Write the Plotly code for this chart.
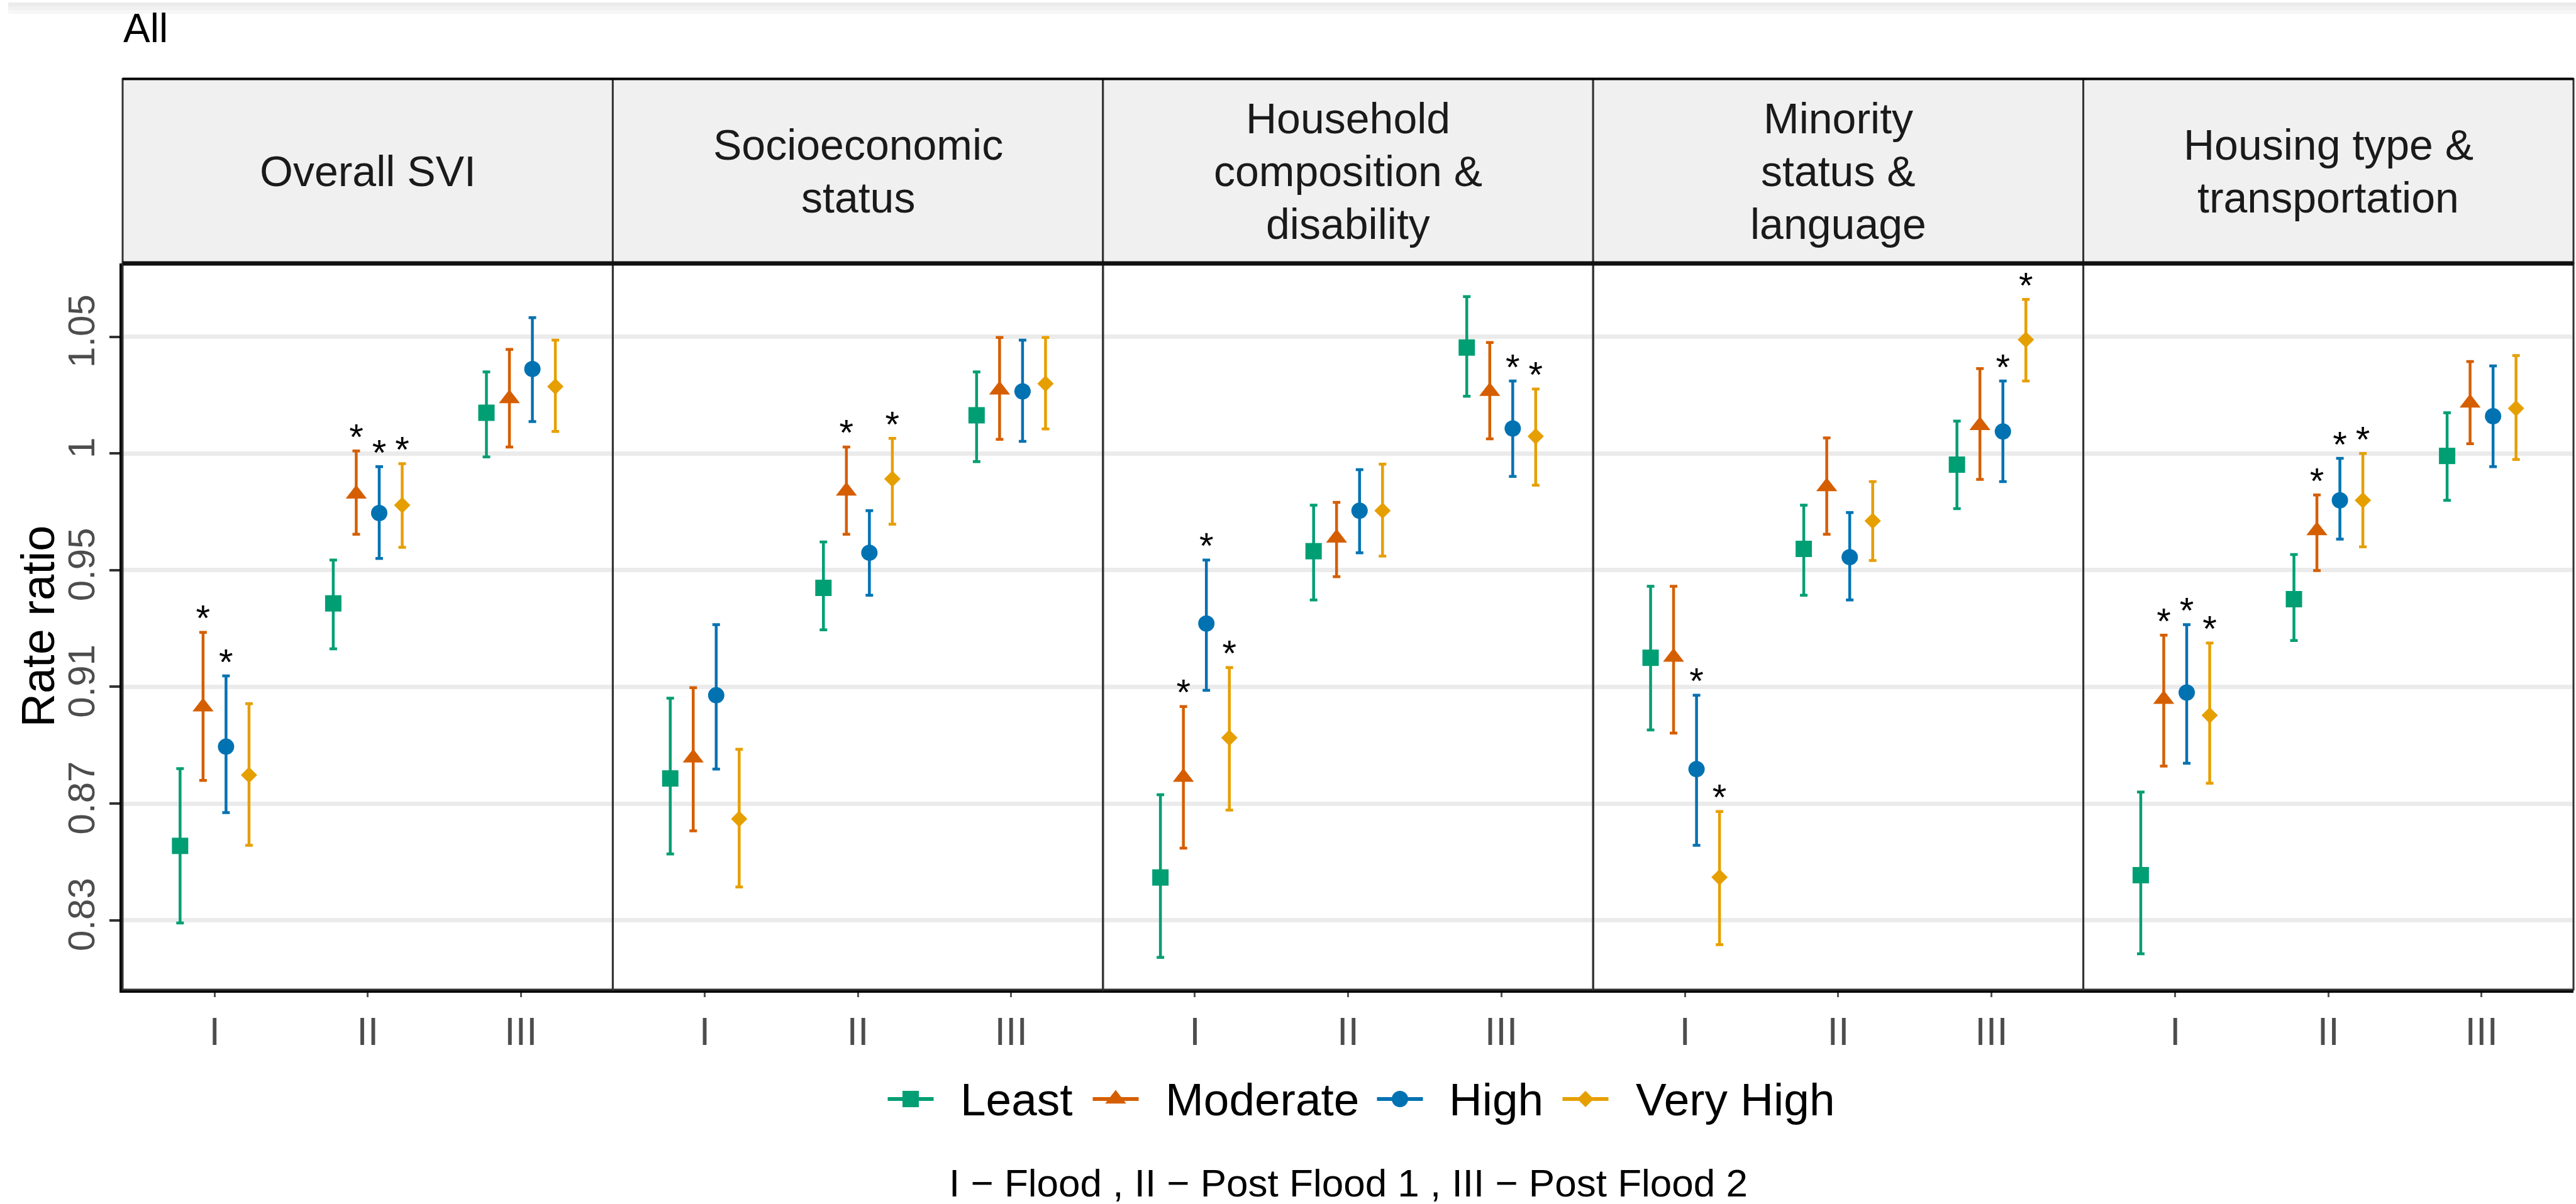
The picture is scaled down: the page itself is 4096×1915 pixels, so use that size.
import math
import plotly.graph_objects as go

# ---------------------------------------------------------------- data
domains = ["Overall SVI", "Socioeconomic status", "Household composition & disability",
           "Minority status & language", "Housing type & transportation"]
domain_lines = [["Overall SVI"], ["Socioeconomic", "status"],
                ["Household", "composition &", "disability"],
                ["Minority", "status &", "language"],
                ["Housing type &", "transportation"]]
periods = ["I", "II", "III"]
levels = ["Least", "Moderate", "High", "Very High"]
period_note = "I \u2212 Flood , II \u2212 Post Flood 1 , III \u2212 Post Flood 2"
y_tick_labels = ["0.83", "0.87", "0.91", "0.95", "1", "1.05"]

# rate ratio with lower / upper limits, ordered domain by domain, periods I-III
least_rr = [0.8538, 0.9414, 1.0165, 0.8773, 0.9473, 1.0155, 0.8430, 0.9614, 1.0436,
            0.9210, 0.9623, 0.9955, 0.8438, 0.9430, 0.9990]
least_lo = [0.8277, 0.9243, 0.9986, 0.8510, 0.9314, 0.9967, 0.8163, 0.9427, 1.0233,
            0.8946, 0.9445, 0.9780, 0.8175, 0.9274, 0.9813]
least_hi = [0.8808, 0.9580, 1.0334, 0.9061, 0.9650, 1.0334, 0.8716, 0.9794, 1.0652,
            0.9479, 0.9794, 1.0131, 0.8725, 0.9601, 1.0165]
least_sig = [0, 0, 0, 0, 0, 0, 0, 0, 0, 0, 0, 0, 0, 0, 0]

moderate_rr = [0.9030, 0.9838, 1.0223, 0.8846, 0.9850, 1.0259, 0.8777, 0.9665, 1.0253,
               0.9212, 0.9867, 1.0113, 0.9057, 0.9694, 1.0205]
moderate_lo = [0.8766, 0.9680, 1.0026, 0.8590, 0.9680, 1.0057, 0.8530, 0.9516, 1.0059,
               0.8935, 0.9680, 0.9896, 0.8817, 0.9539, 1.0039]
moderate_hi = [0.9305, 1.0010, 1.0428, 0.9100, 1.0026, 1.0478, 0.9031, 0.9805, 1.0457,
               0.9479, 1.0063, 1.0348, 0.9294, 0.9834, 1.0377]
moderate_sig = [1, 1, 0, 0, 1, 0, 1, 0, 0, 0, 0, 0, 1, 1, 0]

high_rr = [0.8886, 0.9763, 1.0346, 0.9072, 0.9608, 1.0253, 0.9338, 0.9772, 1.0101,
           0.8806, 0.9591, 1.0089, 0.9082, 0.9813, 1.0151]
high_lo = [0.8653, 0.9586, 1.0129, 0.8806, 0.9445, 1.0049, 0.9090, 0.9608, 0.9908,
           0.8540, 0.9427, 0.9887, 0.8827, 0.9661, 0.9947]
high_hi = [0.9143, 0.9947, 1.0562, 0.9334, 0.9772, 1.0467, 0.9580, 0.9935, 1.0296,
           0.9072, 0.9765, 1.0296, 0.9334, 0.9980, 1.0359]
high_sig = [1, 1, 0, 0, 0, 0, 1, 0, 1, 1, 0, 1, 1, 1, 0]

veryhigh_rr = [0.8785, 0.9794, 1.0273, 0.8631, 0.9898, 1.0285, 0.8918, 0.9772, 1.0069,
               0.8431, 0.9732, 1.0469, 0.8999, 0.9813, 1.0183]
veryhigh_lo = [0.8540, 0.9629, 1.0089, 0.8398, 0.9719, 1.0099, 0.8662, 0.9595, 0.9873,
               0.8205, 0.9578, 1.0296, 0.8756, 0.9631, 0.9976]
veryhigh_hi = [0.9041, 0.9959, 1.0467, 0.8877, 1.0061, 1.0478, 0.9174, 0.9957, 1.0263,
               0.8657, 0.9887, 1.0640, 0.9265, 1.0000, 1.0402]
veryhigh_sig = [0, 1, 0, 0, 1, 0, 1, 0, 1, 1, 0, 1, 1, 1, 0]

series = {
    "Least": (least_rr, least_lo, least_hi, least_sig),
    "Moderate": (moderate_rr, moderate_lo, moderate_hi, moderate_sig),
    "High": (high_rr, high_lo, high_hi, high_sig),
    "Very High": (veryhigh_rr, veryhigh_lo, veryhigh_hi, veryhigh_sig),
}

# ---------------------------------------------------------------- style
W, H = 4096, 1915
FONT = "Liberation Sans, Arial, Helvetica, sans-serif"
colors = {"Least": "#009E73", "Moderate": "#D55E00", "High": "#0072B2", "Very High": "#E69F00"}
symbols = {"Least": "square", "Moderate": "triangle-up", "High": "circle", "Very High": "diamond"}
msizes = {"Least": 26, "Moderate": 29, "High": 26, "Very High": 20}
dodge = {"Least": -0.225, "Moderate": -0.075, "High": 0.075, "Very High": 0.225}

PANEL_L, PANEL_R = 195, 4092
PLOT_TOP, PLOT_BOT = 419, 1574
STRIP_TOP = 125.5
PW = (PANEL_R - PANEL_L) / len(domains)

LOG_STEP = 0.047                       # break spacing on the natural-log scale
Y_RANGE = [-0.093786, 0.033237]        # log10 limits of the panels
tick_vals = [math.exp(k * LOG_STEP) for k in range(-4, 2)]
STAR_SHIFT = math.exp(0.0043)


def fx(px):
    return px / W


def fy(py):
    return 1 - py / H


fig = go.Figure()
shapes, annotations = [], []

for i, dom in enumerate(domains):
    ax = "" if i == 0 else str(i + 1)
    xa, ya = "x" + ax, "y" + ax
    sl = slice(3 * i, 3 * i + 3)
    for lev in levels:
        rr, lo, hi, sig = (arr[sl] for arr in series[lev])
        xs = [p + 1 + dodge[lev] for p in range(len(periods))]
        fig.add_trace(go.Scatter(
            x=xs, y=rr, mode="markers", xaxis=xa, yaxis=ya, showlegend=False,
            marker=dict(symbol=symbols[lev], size=msizes[lev], color=colors[lev],
                        line=dict(width=0)),
            error_y=dict(type="data", symmetric=False,
                         array=[h - r for h, r in zip(hi, rr)],
                         arrayminus=[r - l for r, l in zip(rr, lo)],
                         color=colors[lev], thickness=4.5, width=6),
            name=lev, hoverinfo="skip"))
        sx = [x for x, s in zip(xs, sig) if s]
        sy = [h * STAR_SHIFT for h, s in zip(hi, sig) if s]
        if sx:
            fig.add_trace(go.Scatter(
                x=sx, y=sy, mode="text", text=["*"] * len(sx), xaxis=xa, yaxis=ya,
                textposition="middle center", showlegend=False, hoverinfo="skip",
                textfont=dict(family=FONT, size=58, color="#000000")))

    x0, x1 = PANEL_L + i * PW, PANEL_L + (i + 1) * PW
    fig.layout["xaxis" + ax] = dict(
        domain=[fx(x0), fx(x1)], anchor=ya, range=[0.4, 3.6],
        tickmode="array", tickvals=[1, 2, 3], ticktext=periods,
        showgrid=False, zeroline=False, showline=True, linecolor="#000000", linewidth=5,
        ticks="outside", ticklen=7, tickwidth=3, tickcolor="#555555",
        tickfont=dict(family=FONT, size=63, color="#4D4D4D"))
    fig.layout["yaxis" + ax] = dict(
        domain=[fy(PLOT_BOT), fy(PLOT_TOP)], anchor=xa, type="log", range=Y_RANGE,
        tickmode="array", tickvals=tick_vals, ticktext=y_tick_labels,
        showgrid=True, gridcolor="#EBEBEB", gridwidth=7, zeroline=False,
        showline=(i == 0), linecolor="#000000", linewidth=5,
        ticks="outside" if i == 0 else "", ticklen=16, tickwidth=4, tickcolor="#333333",
        showticklabels=(i == 0), tickangle=-90,
        tickfont=dict(family=FONT, size=60, color="#4D4D4D"))
    if i:
        fig.layout["yaxis" + ax].matches = "y"

    # reference line at a ratio of 1
    shapes.append(dict(type="line", xref=xa + " domain", x0=0, x1=1, yref=ya, y0=0, y1=0,
                       line=dict(color="#595959", width=6, dash="9px,9px"), layer="above"))
    # panel border
    shapes.append(dict(type="rect", xref="paper", yref="paper",
                       x0=fx(x0), x1=fx(x1), y0=fy(PLOT_BOT), y1=fy(PLOT_TOP),
                       line=dict(color="#333333", width=3), fillcolor="rgba(0,0,0,0)"))
    # strip
    shapes.append(dict(type="rect", xref="paper", yref="paper",
                       x0=fx(x0), x1=fx(x1), y0=fy(PLOT_TOP), y1=fy(STRIP_TOP),
                       line=dict(color="#333333", width=3), fillcolor="#F0F0F0"))
    lines = domain_lines[i]
    centre = (STRIP_TOP + PLOT_TOP) / 2
    for j, txt in enumerate(lines):
        annotations.append(dict(
            text=txt, xref="paper", yref="paper", x=fx((x0 + x1) / 2),
            y=fy(centre + (j - (len(lines) - 1) / 2) * 84), xanchor="center", yanchor="middle",
            showarrow=False, font=dict(family=FONT, size=68, color="#1A1A1A")))

# heavy rules under the strips and along the top
shapes.append(dict(type="line", xref="paper", yref="paper", x0=fx(PANEL_L), x1=fx(PANEL_R),
                   y0=fy(PLOT_TOP), y1=fy(PLOT_TOP), line=dict(color="#111111", width=7)))
shapes.append(dict(type="line", xref="paper", yref="paper", x0=fx(PANEL_L), x1=fx(PANEL_R),
                   y0=fy(STRIP_TOP), y1=fy(STRIP_TOP), line=dict(color="#000000", width=4)))

# faint band along the top edge
for k, col in enumerate(["#EBEBEB", "#F1F1F1", "#F7F7F7"]):
    shapes.append(dict(type="rect", xref="paper", yref="paper", x0=fx(13), x1=1,
                       y0=fy(4 + 6 * (k + 1)), y1=fy(4 + 6 * k), line=dict(width=0),
                       fillcolor=col, layer="below"))

# legend row drawn on its own hidden axis
legend_key_x = [1448, 1774, 2226, 2521]
legend_text_x = [1525, 1851, 2302, 2599]
LEGEND_Y = 1748
for lev, kx in zip(levels, legend_key_x):
    fig.add_trace(go.Scatter(
        x=[kx], y=[0], mode="markers", xaxis="x6", yaxis="y6", showlegend=False,
        hoverinfo="skip",
        marker=dict(symbol=symbols[lev], size=msizes[lev], color=colors[lev], line=dict(width=0)),
        error_x=dict(type="constant", value=36.5, color=colors[lev], thickness=6, width=0)))
for lev, tx in zip(levels, legend_text_x):
    annotations.append(dict(text=lev, xref="paper", yref="paper", x=fx(tx), y=fy(LEGEND_Y),
                            xanchor="left", yanchor="middle", showarrow=False,
                            font=dict(family=FONT, size=73, color="#000000")))
fig.layout.xaxis6 = dict(domain=[0, 1], range=[0, W], visible=False, fixedrange=True)
fig.layout.yaxis6 = dict(domain=[fy(LEGEND_Y + 40), fy(LEGEND_Y - 40)], range=[-1, 1],
                         visible=False, fixedrange=True)

annotations.append(dict(text=period_note, xref="paper", yref="paper",
                        x=fx((PANEL_L + PANEL_R) / 2), y=fy(1881), xanchor="center",
                        yanchor="middle", showarrow=False,
                        font=dict(family=FONT, size=62, color="#000000")))
annotations.append(dict(text="Rate ratio", xref="paper", yref="paper", x=fx(60),
                        y=fy((PLOT_TOP + PLOT_BOT) / 2), xanchor="center", yanchor="middle",
                        textangle=-90, showarrow=False,
                        font=dict(family=FONT, size=74, color="#000000")))
annotations.append(dict(text="All", xref="paper", yref="paper", x=fx(194), y=fy(45),
                        xanchor="left", yanchor="middle", showarrow=False,
                        font=dict(family=FONT, size=64, color="#000000")))

fig.update_layout(
    width=W, height=H, margin=dict(l=0, r=0, t=0, b=0, autoexpand=False),
    paper_bgcolor="#FFFFFF", plot_bgcolor="#FFFFFF",
    shapes=shapes, annotations=annotations, showlegend=False,
    font=dict(family=FONT))

fig.write_html("out.html", config={"displayModeBar": False})
